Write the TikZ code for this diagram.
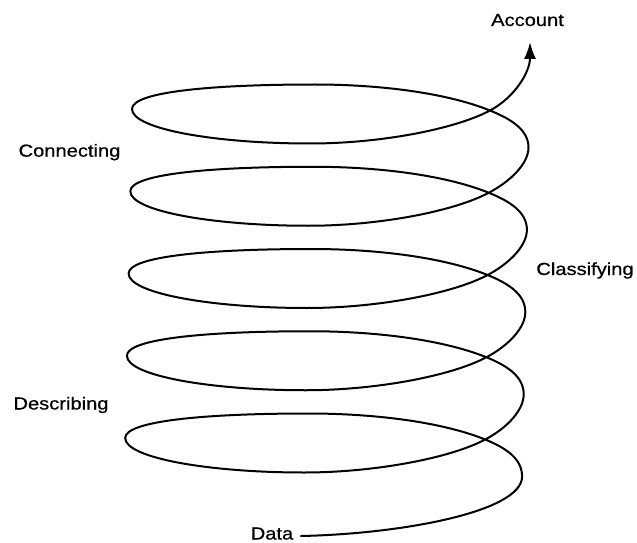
\documentclass[tikz,border=0pt]{standalone}
\usepackage{fontspec}
\setmainfont[FakeStretch=1.15,FakeBold=0.6]{Liberation Sans}
\usetikzlibrary{arrows.meta}
\begin{document}
\begin{tikzpicture}[x=1pt,y=1pt,
  spiral/.style={line width=2pt, line cap=round, line join=round},
  lbl/.style={inner sep=0pt, anchor=base, font=\fontsize{17.5}{20}\selectfont}]
\useasboundingbox (0,0) rectangle (637,542);
% loop key points (k=0 top ... 4 bottom)
\coordinate (C0) at (490,431.5);   \coordinate (D0) at (528.5,394.5);
\coordinate (T0) at (315,457.5);   \coordinate (L0) at (132,433);   \coordinate (M0) at (310,398.5);
\coordinate (C1) at (488.8,349.25);\coordinate (D1) at (526.9,312.25);
\coordinate (T1) at (313.5,375.25);\coordinate (L1) at (130.3,350.75);\coordinate (M1) at (308.5,316.25);
\coordinate (C2) at (487.6,267);   \coordinate (D2) at (525.3,230);
\coordinate (T2) at (312,293);     \coordinate (L2) at (128.6,268.5); \coordinate (M2) at (307,234);
\coordinate (C3) at (486.4,184.75);\coordinate (D3) at (523.7,147.75);
\coordinate (T3) at (310.5,210.75);\coordinate (L3) at (126.9,186.25);\coordinate (M3) at (305.5,151.75);
\coordinate (C4) at (485.2,102.5); \coordinate (D4) at (522.1,65.5);
\coordinate (T4) at (309,128.5);   \coordinate (L4) at (125.2,104);   \coordinate (M4) at (304,69.5);
\coordinate (s) at (301,6);
\coordinate (A) at (530,500);
% labels
\node[lbl] (account) at (527.5,516) {Account};
\node[lbl] (connecting) at (69.5,385.3) {Connecting};
\node[lbl] (classifying) at (585,267) {Classifying};
\node[lbl] (describing) at (61,132.5) {Describing};
\node[lbl] (data) at (272,2.5) {Data};
% spiral
\draw[spiral, -{Latex[length=17pt,width=12pt]}] (s)
  .. controls (400,8) and (522.1,30) .. (D4)
  .. controls +(0,18) and +(20.4,-8.3) .. (C4)
  .. controls +(-46.4,18.7) and +(60,0) .. (T4)
  .. controls +(-105,0) and +(0,17) .. (L4)
  .. controls +(0,-20) and +(-95,0) .. (M4)
  .. controls +(70,0) and +(-35.3,-18.8) .. (C4)
  .. controls +(22.1,11.7) and +(0,-16) .. (D3)
  .. controls +(0,18) and +(20.4,-8.3) .. (C3)
  .. controls +(-46.4,18.7) and +(60,0) .. (T3)
  .. controls +(-105,0) and +(0,17) .. (L3)
  .. controls +(0,-20) and +(-95,0) .. (M3)
  .. controls +(70,0) and +(-35.3,-18.8) .. (C3)
  .. controls +(22.1,11.7) and +(0,-16) .. (D2)
  .. controls +(0,18) and +(20.4,-8.3) .. (C2)
  .. controls +(-46.4,18.7) and +(60,0) .. (T2)
  .. controls +(-105,0) and +(0,17) .. (L2)
  .. controls +(0,-20) and +(-95,0) .. (M2)
  .. controls +(70,0) and +(-35.3,-18.8) .. (C2)
  .. controls +(22.1,11.7) and +(0,-16) .. (D1)
  .. controls +(0,18) and +(20.4,-8.3) .. (C1)
  .. controls +(-46.4,18.7) and +(60,0) .. (T1)
  .. controls +(-105,0) and +(0,17) .. (L1)
  .. controls +(0,-20) and +(-95,0) .. (M1)
  .. controls +(70,0) and +(-35.3,-18.8) .. (C1)
  .. controls +(22.1,11.7) and +(0,-16) .. (D0)
  .. controls +(0,18) and +(20.4,-8.3) .. (C0)
  .. controls +(-46.4,18.7) and +(60,0) .. (T0)
  .. controls +(-105,0) and +(0,17) .. (L0)
  .. controls +(0,-20) and +(-95,0) .. (M0)
  .. controls +(70,0) and +(-35.3,-18.8) .. (C0)
  .. controls +(24.7,13.1) and +(0,-30) .. (A);
\end{tikzpicture}
\end{document}
